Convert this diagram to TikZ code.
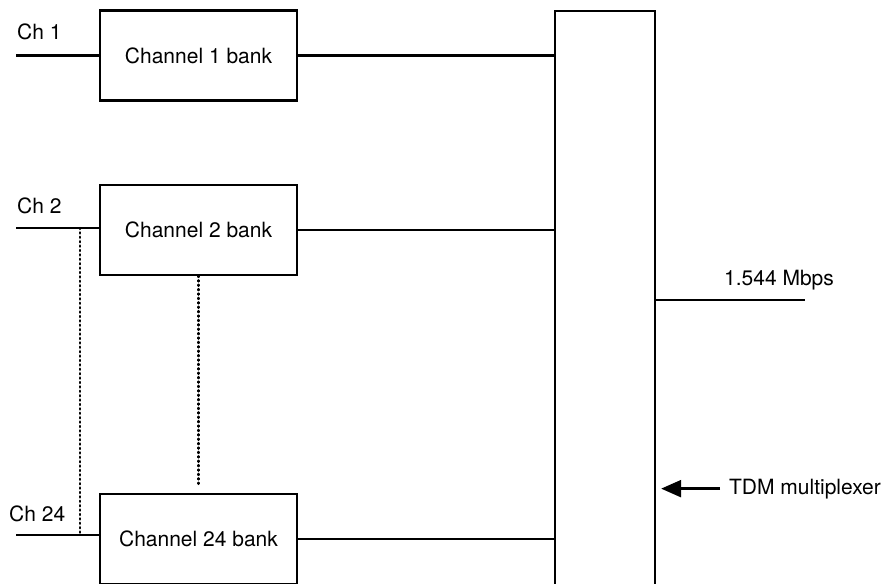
\documentclass[tikz,border=0pt]{standalone}
\usepackage{fontspec}
\setmainfont{TeX Gyre Heros}
\usepackage{tikz}
\usetikzlibrary{arrows.meta, positioning}

\begin{document}
\begin{tikzpicture}[
    x=1pt, y=1pt,
    font=\fontsize{21}{24}\selectfont,
    line width=2.3pt,
    node distance=82pt and 0pt,
    bank/.style={draw, line width=2.3pt, minimum width=197pt, minimum height=90pt, inner sep=0pt},
    lbl/.style={anchor=base west, inner sep=0pt},
    dots/.style={line width=2.5pt, line cap=round, dash pattern=on 1pt off 3.4pt},
    ar/.style={-{Triangle[length=20pt, width=17pt]}, line width=2.3pt}
]
\useasboundingbox (0,0) rectangle (890,-583);
\clip (0,0) rectangle (890,-583);
% channel banks
\node[bank] (ch1) at (198.5,-55.5) {Channel 1 bank};
\node[bank, below=of ch1] (ch2) {Channel 2 bank};
\node[bank, below=217pt of ch2] (ch24) {Channel 24 bank};
% multiplexer
\node[draw, line width=2.3pt, minimum width=100pt, minimum height=620pt, anchor=north] (mux) at (605,-10) {};
% inputs
\coordinate (in1) at (16,-55.5);
\coordinate (in2) at (16,-228);
\coordinate (in24) at (16,-535);
\node[lbl] (l1) at (16,-40) {Ch 1};
\node[lbl] (l2) at (16,-213) {Ch 2};
\node[lbl] (l24) at (8,-521) {Ch 24};
\foreach \a/\b in {in1/ch1, in2/ch2, in24/ch24}
   \draw (\a) -- (\a -| \b.west);
\foreach \b in {ch1, ch2, ch24}
   \draw (\b.east) -- (\b.east -| mux.west);
% dotted links
\coordinate (tap2) at (80,-228);
\coordinate (tap24) at (80,-535);
\draw[dots] (tap2) -- (tap24);
\draw[dots, shorten >=7pt] (ch2.south) -- (ch24.north);
% output
\coordinate (out) at (805,-300);
\draw (mux.east |- out) -- (out);
\node[lbl] (rate) at (723,-285) {1.544 Mbps};
\node[lbl] (tdm) at (728,-494) {TDM multiplexer};
\draw[ar, shorten >=5pt] ([xshift=-8pt]tdm.west) -- (tdm.west -| mux.east);
\end{tikzpicture}
\end{document}
